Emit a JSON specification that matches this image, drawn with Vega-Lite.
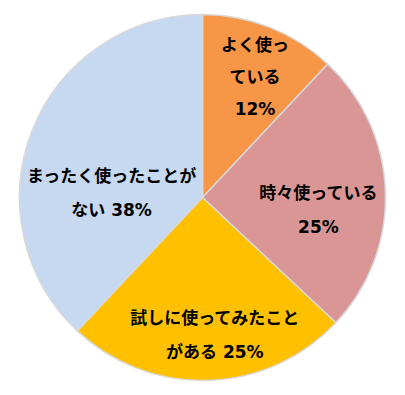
{
  "$schema": "https://vega.github.io/schema/vega-lite/v6.json",
  "width": 400,
  "height": 395,
  "padding": {"left": 5, "right": 0, "top": 0, "bottom": 0},
  "autosize": {"type": "fit", "contains": "padding"},
  "background": "white",
  "view": {"stroke": null},
  "data": {
    "values": [
      {"cat": "よく使っている", "pct": 12, "ord": 1, "label": "よく使っ\nている\n12%"},
      {"cat": "時々使っている", "pct": 25, "ord": 2, "label": "時々使っている\n25%"},
      {"cat": "試しに使ってみたことがある", "pct": 25, "ord": 3, "label": "試しに使ってみたこと\nがある 25%"},
      {"cat": "まったく使ったことがない", "pct": 38, "ord": 4, "label": "まったく使ったことが\nない 38%"}
    ]
  },
  "encoding": {
    "theta": {"field": "pct", "type": "quantitative", "stack": true},
    "order": {"field": "ord", "type": "quantitative", "sort": "ascending"}
  },
  "layer": [
    {
      "mark": {"type": "arc", "outerRadius": 183, "stroke": "#D9D9D9", "strokeWidth": 1.5},
      "encoding": {
        "color": {
          "field": "cat", "type": "nominal",
          "scale": {
            "domain": ["よく使っている", "時々使っている", "試しに使ってみたことがある", "まったく使ったことがない"],
            "range": ["#F79646", "#D99694", "#FFC000", "#C6D9F1"]
          },
          "legend": null
        }
      }
    },
    {
      "mark": {"type": "text", "radius": 129, "dx": 5, "dy": -32, "font": "DejaVu Sans, Noto Sans CJK JP", "fontWeight": "bold", "fontSize": 17, "lineBreak": "\n", "lineHeight": 32, "align": "center", "baseline": "middle", "color": "#000000"},
      "encoding": {"text": {"condition": {"test": "datum.ord == 1", "field": "label"}, "value": ""}}
    },
    {
      "mark": {"type": "text", "radius": 110, "dx": 6, "dy": 0, "font": "DejaVu Sans, Noto Sans CJK JP", "fontWeight": "bold", "fontSize": 17, "lineBreak": "\n", "lineHeight": 34, "align": "center", "baseline": "middle", "color": "#000000"},
      "encoding": {"text": {"condition": {"test": "datum.ord == 2", "field": "label"}, "value": ""}}
    },
    {
      "mark": {"type": "text", "radius": 137, "dx": 8, "dy": -15, "font": "DejaVu Sans, Noto Sans CJK JP", "fontWeight": "bold", "fontSize": 17, "lineBreak": "\n", "lineHeight": 34, "align": "center", "baseline": "middle", "color": "#000000"},
      "encoding": {"text": {"condition": {"test": "datum.ord == 3", "field": "label"}, "value": ""}}
    },
    {
      "mark": {"type": "text", "radius": 101, "dx": 3, "dy": 17, "font": "DejaVu Sans, Noto Sans CJK JP", "fontWeight": "bold", "fontSize": 17, "lineBreak": "\n", "lineHeight": 34, "align": "center", "baseline": "middle", "color": "#000000"},
      "encoding": {"text": {"condition": {"test": "datum.ord == 4", "field": "label"}, "value": ""}}
    }
  ]
}
